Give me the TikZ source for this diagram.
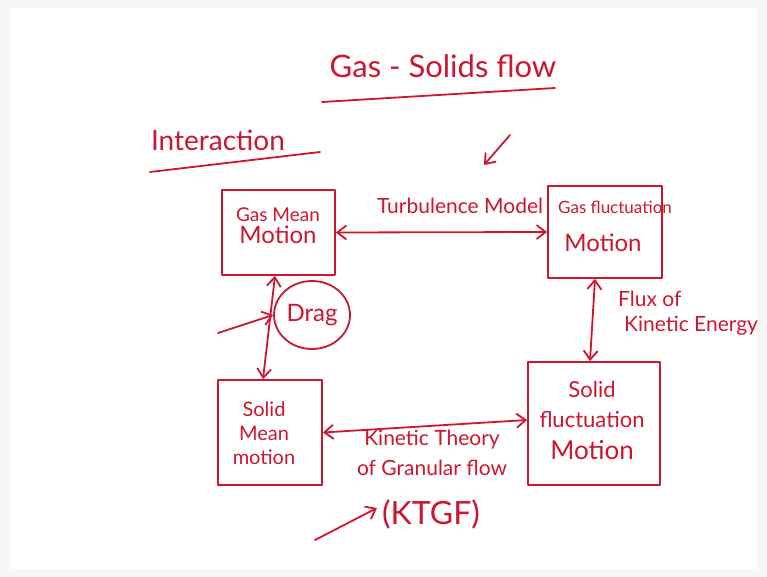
\documentclass[tikz,border=0pt]{standalone}
\usepackage{fontspec}
\setmainfont{Lato}
\usetikzlibrary{arrows.meta,shapes.geometric}
\definecolor{ink}{RGB}{205,22,48}
\definecolor{edge}{RGB}{246,246,246}
\tikzset{
  every node/.style={text=ink},
  hand/.style={draw=ink, line width=1.8pt, line cap=round, line join=round},
  box/.style={hand, rectangle, align=center, inner sep=2pt},
  lbl/.style={font=\fontsize{#1}{#1}\selectfont, align=center, inner sep=1pt},
  lbl/.default=20,
  arr/.style={hand, -{Straight Barb[length=9pt,width=14pt,line width=1.8pt]}},
  darr/.style={hand, {Straight Barb[length=9pt,width=14pt,line width=1.8pt]}-{Straight Barb[length=9pt,width=14pt,line width=1.8pt]}},
}
\begin{document}
\begin{tikzpicture}[x=1pt,y=-1pt]
\fill[edge] (0,0) rectangle (767,577);
\fill[white] (10,8) rectangle (757,569);
\useasboundingbox (0,0) rectangle (767,577);

% title and heading
\node[lbl=31] (title) at (443,66) {Gas - Solids flow};
\coordinate (tu1) at (322,102);
\coordinate (tu2) at (555,88);
\draw[hand] (tu1) -- (tu2);
\node[lbl=28] (inter) at (218,140) {Interaction};
\coordinate (iu1) at (150,172);
\coordinate (iu2) at (320,152);
\draw[hand] (iu1) -- (iu2);
\coordinate (sa1) at (510,135);
\coordinate (sa2) at (484,165);
\draw[arr] (sa1) -- (sa2);

% boxes
\node[box, minimum width=113pt, minimum height=85pt] (gm) at (278.5,232.5) {};
\node[lbl=19] (gmt) at (278,226) {Gas Mean\\[3pt]\fontsize{24}{24}\selectfont Motion};
\node[box, minimum width=114pt, minimum height=92pt] (gf) at (605,232) {};
\node[lbl=17] (gft) at (615,207) {Gas fluctuation};
\node[lbl=24] (gfm) at (603,243) {Motion};
\node[box, minimum width=104pt, minimum height=105pt] (sm) at (270,432.5) {};
\node[lbl=20] (smt) at (264,433) {Solid\\[4pt]Mean\\[4pt]motion};
\node[box, minimum width=132pt, minimum height=123pt] (sf) at (594,423.5) {};
\node[lbl=22] (sft) at (592,420) {Solid\\[8pt]fluctuation\\[10pt]\fontsize{26}{26}\selectfont Motion};

% drag
\node[hand, ellipse, minimum width=76pt, minimum height=68pt, lbl=24] (drag) at (312,315) {Drag};

% connectors
\draw[darr] (gm.east) -- (gf.west);
\node[lbl=21] (turb) at (460,206) {Turbulence Model};
\draw[darr] ([xshift=-3.5pt]gm.south) -- ([xshift=-7pt]sm.north);
\coordinate (din) at (218,333);
\draw[arr] (din) -- (drag.west);
\draw[darr] ([xshift=-10pt]gf.south) -- ([xshift=-4pt]sf.north);
\node[lbl=21, align=left, anchor=west] (flux) at (617,313) {Flux of\\[4pt]\hspace*{6pt}Kinetic Energy};
\draw[darr] (sm.east) -- ([yshift=3.5pt]sf.west);
\node[lbl=21] (ktg) at (432,453) {Kinetic Theory\\[9pt]of Granular flow};
\node[lbl=32] (ktgf) at (431,514) {(KTGF)};
\coordinate (kin) at (315,540);
\draw[arr] (kin) -- ([xshift=-4pt,yshift=6pt]ktgf.west);
\end{tikzpicture}
\end{document}
